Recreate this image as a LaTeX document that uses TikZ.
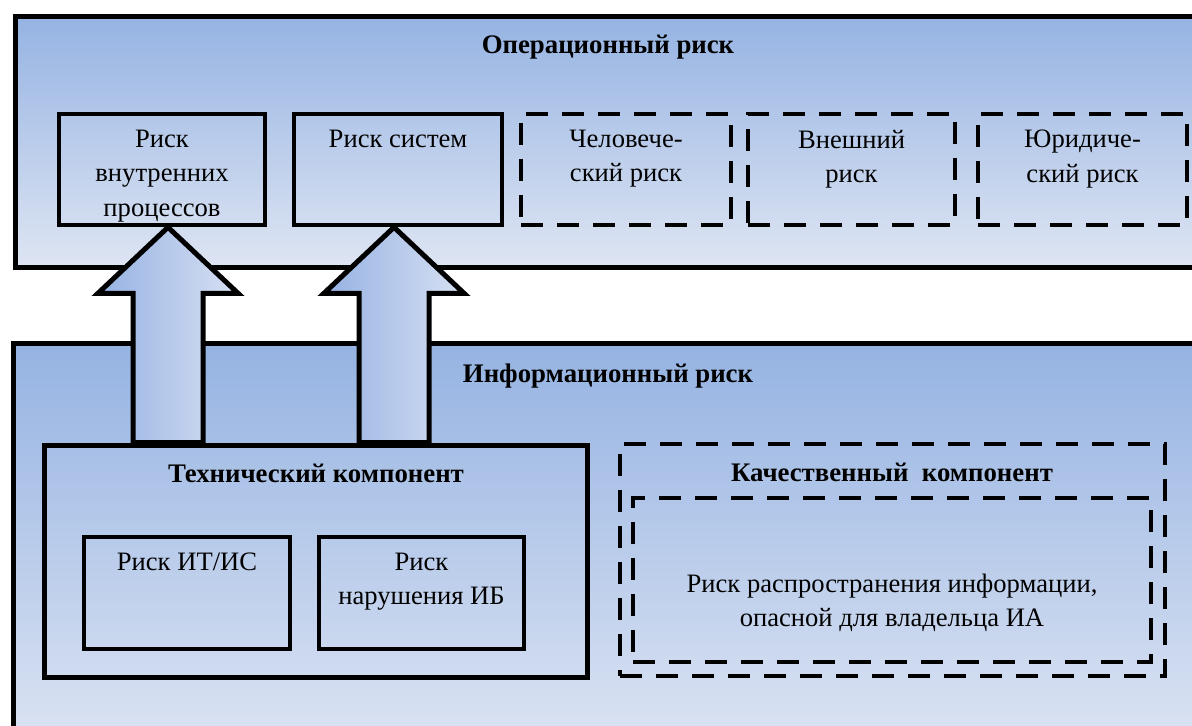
\documentclass[tikz,border=0pt]{standalone}
\usepackage{fontspec}
\setmainfont{Liberation Serif}
\usetikzlibrary{positioning, calc, fit}

\definecolor{paneTop}{RGB}{149,179,226}
\definecolor{paneBot}{RGB}{222,229,243}
\definecolor{arrowL}{RGB}{150,178,227}
\definecolor{arrowR}{RGB}{214,224,242}

\tikzset{
  pane/.style={draw, line width=2.5pt, top color=paneTop, bottom color=paneBot, inner sep=0pt},
  riskbox/.style={draw, line width=2.25pt, inner sep=0pt},
  dashbox/.style={draw, line width=2.25pt, dash pattern=on 11pt off 7pt, inner sep=0pt},
  txt/.style={font=\fontsize{13.3}{17.2}\selectfont, align=center, inner sep=0pt},
  paneTitle/.style={font=\fontsize{13.4}{15}\selectfont\bfseries, inner sep=0pt},
  arrowbody/.style={draw, line width=2.5pt, line join=miter, left color=arrowL, right color=arrowR},
}

% block arrow from the bottom of #1 down to the top of #2
\newcommand{\blockarrow}[3]{%
  \coordinate (tip) at ([xshift=#3]#1.south);
  \draw[arrowbody] (tip) -- ++(70,66) -- ++(-35,0) coordinate (hr)
    -- (hr |- #2.north) -- ++(-70,0) coordinate (hl) -- (hl |- hr) -- ++(-35,0) -- cycle;
}

\begin{document}
\begin{tikzpicture}[x=0.5pt, y=-0.5pt]
  \useasboundingbox (0,0) rectangle (1192,725);
  \clip (0,0) rectangle (1192,725);

  % the two layers
  \node[pane, fit={(15,16) (1215,267)}] (oper) {};
  \node[paneTitle] (operT) at (608,47) {Операционный риск};
  \node[pane, fit={(13,343) (1215,760)}] (info) {};
  \node[paneTitle] (infoT) at (608,376) {Информационный риск};

  % operational risks
  \node[riskbox, fit={(59,114) (265,225)}] (proc) {};
  \node[txt, below=9pt of proc.north] (procT) {Риск\\внутренних\\процессов};
  \node[riskbox, fit={(294,114) (502,225)}] (sys) {};
  \node[txt, below=9pt of sys.north] (sysT) {Риск систем};
  \node[dashbox, fit={(521,114) (731,225)}] (human) {};
  \node[txt, below=9pt of human.north] (humanT) {Человече-\\ский риск};
  \node[dashbox, fit={(748,114) (955,225)}] (extern) {};
  \node[txt, below=9pt of extern.north] (externT) {Внешний\\риск};
  \node[dashbox, fit={(978,114) (1187,225)}] (legal) {};
  \node[txt, below=9pt of legal.north] (legalT) {Юридиче-\\ский риск};

  % technical component
  \node[riskbox, line width=2.5pt, fit={(44,445) (587,677)}] (tech) {};
  \node[paneTitle] (techT) at (316,473) {Технический компонент};
  \node[riskbox, fit={(84,537) (290,649)}] (itis) {};
  \node[txt, below=9pt of itis.north] (itisT) {Риск ИТ/ИС};
  \node[riskbox, fit={(319,537) (524,649)}] (ib) {};
  \node[txt, below=9pt of ib.north] (ibT) {Риск\\нарушения ИБ};

  % qualitative component
  \node[dashbox, fit={(620,444) (1165,676)}] (qual) {};
  \node[paneTitle] (qualT) at (892,472) {Качественный~ компонент};
  \node[dashbox, fit={(633,498) (1151,662)}] (spread) {};
  \node[txt] (spreadT) at (892,603) {Риск распространения информации,\\опасной для владельца ИА};

  \blockarrow{proc}{tech}{3pt}
  \blockarrow{sys}{tech}{-2pt}
\end{tikzpicture}
\end{document}
